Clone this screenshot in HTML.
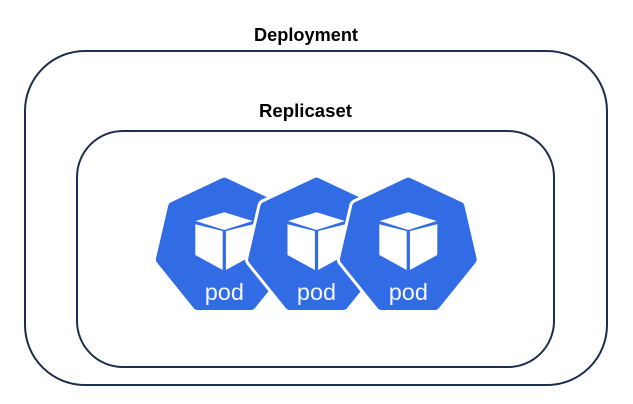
<!DOCTYPE html>
<html>
<head>
<meta charset="utf-8">
<style>
html,body{margin:0;padding:0;background:#fff;width:633px;height:404px;overflow:hidden}
svg{display:block}
.lbl{font-family:"Liberation Sans",sans-serif;font-weight:bold;font-size:18px;fill:#000}
.pod{font-family:"Liberation Sans",sans-serif;font-size:23.5px;fill:#f4f7fe;text-anchor:middle}
</style>
</head>
<body>
<svg width="633" height="404" viewBox="0 0 633 404" xmlns="http://www.w3.org/2000/svg">
<defs>
<g id="p">
<polygon points="0,-62.3 51.2,-38.2 63.4,14.5 26.7,60 -26.7,60 -63.4,14.5 -51.2,-38.2" fill="#fff" stroke="#fff" stroke-width="16" stroke-linejoin="round"/>
<polygon points="0,-62.3 51.2,-38.2 63.4,14.5 26.7,60 -26.7,60 -63.4,14.5 -51.2,-38.2" fill="#326ce5" stroke="#326ce5" stroke-width="10" stroke-linejoin="round"/>
<polygon points="0,-32.7 28.4,-24 0,-15 -28.6,-24" fill="#fff"/>
<polygon points="-29,-20.7 -1.6,-14 -1.6,25 -29,10" fill="#fff"/>
<polygon points="29,-20.7 1.6,-14 1.6,25 29,10" fill="#fff"/>
</g>
</defs>
<rect x="25" y="51" width="582" height="334" rx="60" ry="60" fill="#fff" stroke="#1b2e4f" stroke-width="2"/>
<rect x="77" y="131" width="477" height="236" rx="46" ry="46" fill="#fff" stroke="#1b2e4f" stroke-width="2"/>
<text class="lbl" x="254" y="41" textLength="104" lengthAdjust="spacingAndGlyphs">Deployment</text>
<text class="lbl" x="259" y="117" textLength="93" lengthAdjust="spacingAndGlyphs">Replicaset</text>

<use href="#p" transform="translate(224.3,245)"/>
<text class="pod" x="224.3" y="300">pod</text>
<use href="#p" transform="translate(316.5,245)"/>
<text class="pod" x="316.5" y="300">pod</text>
<use href="#p" transform="translate(408.3,245)"/>
<text class="pod" x="408.3" y="300">pod</text>
</svg>
</body>
</html>
